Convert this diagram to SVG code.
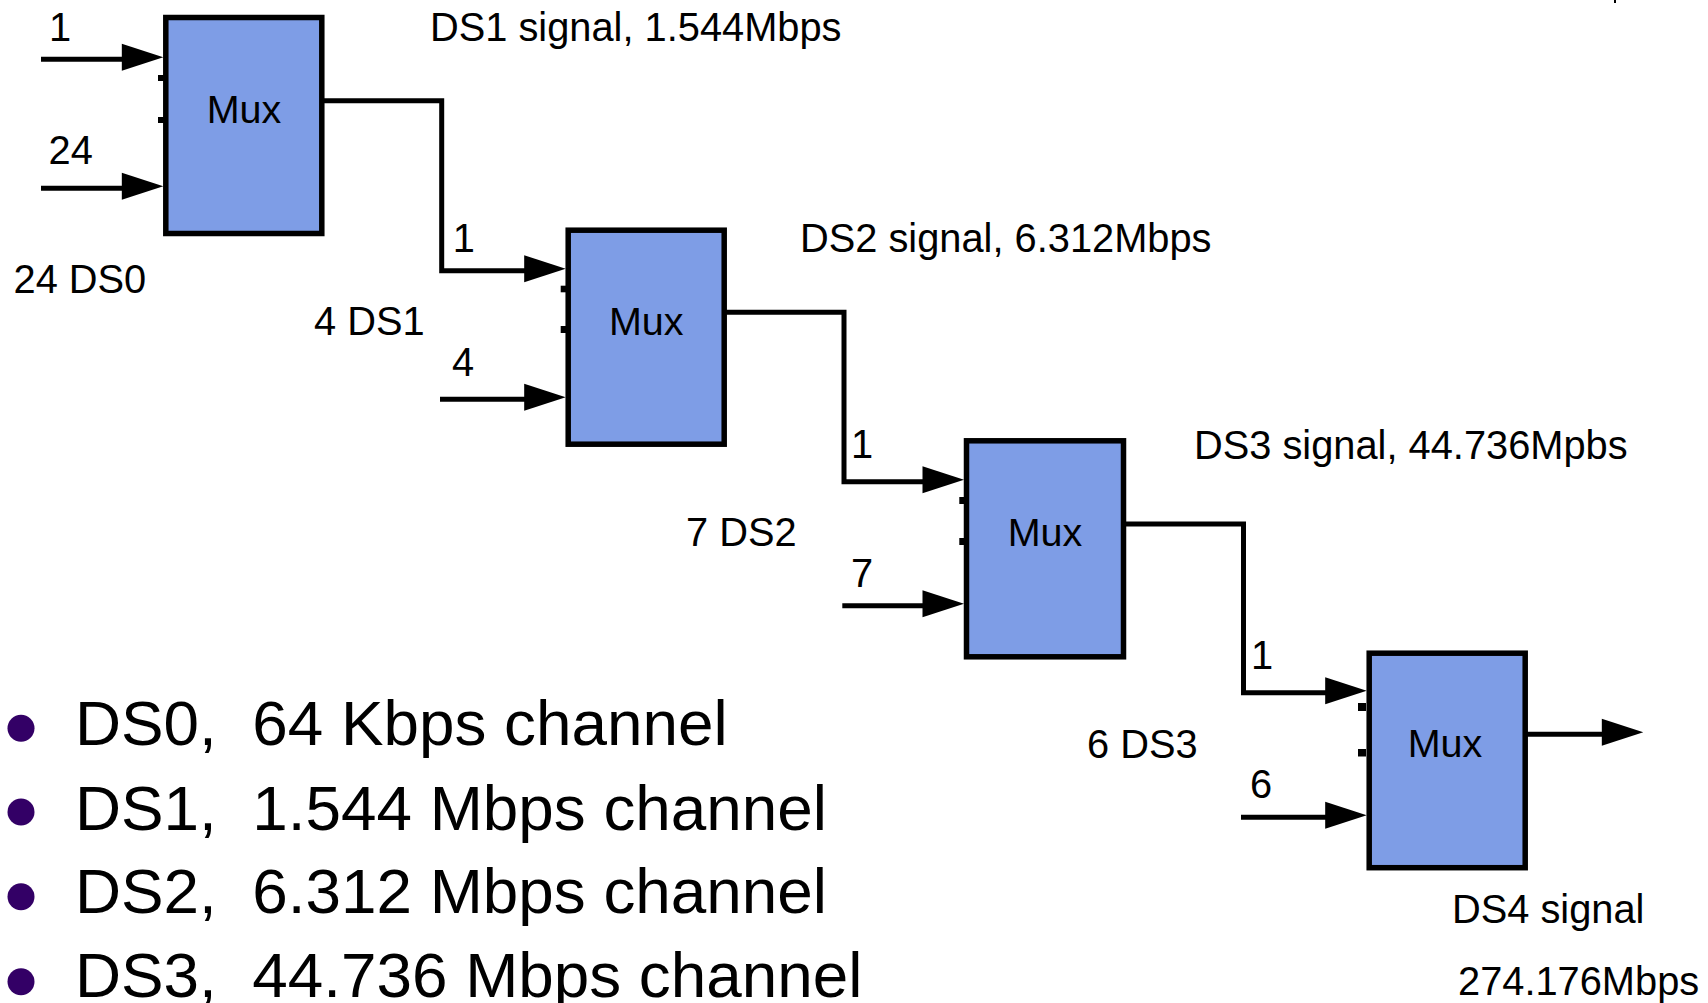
<svg xmlns="http://www.w3.org/2000/svg" width="1708" height="1003" viewBox="0 0 1708 1003">
  <style>
    .box { fill: #7E9DE6; stroke: #000; stroke-width: 5.5; }
    .wire { fill: none; stroke: #000; stroke-width: 5; stroke-linejoin: miter; }
    .arr { marker-end: url(#ah); }
    .lbl { font-family: "Liberation Sans", Arial, sans-serif; font-size: 39.8px; fill: #000; }
    .mux { font-family: "Liberation Sans", Arial, sans-serif; font-size: 39.5px; fill: #000; text-anchor: middle; }
    .big { font-family: "Liberation Sans", Arial, sans-serif; font-size: 63.8px; fill: #000; white-space: pre; }
    .bul { fill: #330066; }
    .dot { fill: #000; }
  </style>
  <defs>
    <marker id="ah" markerUnits="userSpaceOnUse" markerWidth="44" markerHeight="30" refX="21.5" refY="15.5" orient="auto" overflow="visible">
      <path d="M0,0 L41.5,13.5 L0,27 Z" fill="#000"/>
    </marker>
  </defs>
  <rect width="1708" height="1003" fill="#fff"/>
  <rect x="1614" y="0" width="2" height="3" fill="#000"/>

  <g id="connectors">
    <path class="wire arr" d="M41,59.3 H143.3"/>
    <path class="wire arr" d="M41,188.3 H143.3"/>
    <path class="wire arr" d="M316,100.7 H441.7 V270.7 H545.7"/>
    <path class="wire arr" d="M440,399.3 H545.7"/>
    <path class="wire arr" d="M714,312.3 H844 V481.7 H944"/>
    <path class="wire arr" d="M842.3,605.7 H944"/>
    <path class="wire arr" d="M1115,524 H1243.5 V692.7 H1346.7"/>
    <path class="wire arr" d="M1241,817.3 H1346.7"/>
    <path class="wire arr" d="M1519,734.3 H1623.3"/>
  </g>

  <g id="mux1">
    <rect class="box" x="165.8" y="17.5" width="156" height="216"/>
    <rect class="dot" x="158" y="75" width="7" height="6"/>
    <rect class="dot" x="158" y="117" width="7" height="6"/>
    <text class="mux" x="244" y="123.3">Mux</text>
  </g>
  <g id="mux2">
    <rect class="box" x="568.2" y="230.2" width="156" height="214"/>
    <rect class="dot" x="560.7" y="285.7" width="7" height="6.6"/>
    <rect class="dot" x="560.7" y="326" width="7" height="7"/>
    <text class="mux" x="646.2" y="335">Mux</text>
  </g>
  <g id="mux3">
    <rect class="box" x="966.5" y="440.8" width="157" height="216"/>
    <rect class="dot" x="959.3" y="497" width="7" height="7"/>
    <rect class="dot" x="959.3" y="538" width="7" height="7"/>
    <text class="mux" x="1045" y="546">Mux</text>
  </g>
  <g id="mux4">
    <rect class="box" x="1369.2" y="653.2" width="156" height="214.5"/>
    <rect class="dot" x="1358" y="703" width="8" height="8"/>
    <rect class="dot" x="1358" y="749" width="8" height="7.5"/>
    <text class="mux" x="1445" y="756.7">Mux</text>
  </g>

  <g id="labels">
    <text class="lbl" x="49" y="40.7">1</text>
    <text class="lbl" x="48.5" y="164">24</text>
    <text class="lbl" x="13.5" y="293">24 DS0</text>
    <text class="lbl" x="430" y="40.7">DS1 signal, 1.544Mbps</text>
    <text class="lbl" x="452.7" y="251.7">1</text>
    <text class="lbl" x="314" y="335">4 DS1</text>
    <text class="lbl" x="452" y="376">4</text>
    <text class="lbl" x="800" y="251.7">DS2 signal, 6.312Mbps</text>
    <text class="lbl" x="851" y="458">1</text>
    <text class="lbl" x="686" y="546">7 DS2</text>
    <text class="lbl" x="851" y="586.7">7</text>
    <text class="lbl" x="1194" y="459.3">DS3 signal, 44.736Mpbs</text>
    <text class="lbl" x="1251" y="669">1</text>
    <text class="lbl" x="1087" y="758.3">6 DS3</text>
    <text class="lbl" x="1250" y="798.3">6</text>
    <text class="lbl" x="1452" y="922.7">DS4 signal</text>
    <text class="lbl" x="1458" y="995">274.176Mbps</text>
  </g>

  <g id="bullets">
    <circle class="bul" cx="21" cy="728.3" r="13.5"/>
    <circle class="bul" cx="21" cy="812" r="13.5"/>
    <circle class="bul" cx="21" cy="896.7" r="13.5"/>
    <circle class="bul" cx="21" cy="981.7" r="13.5"/>
    <text class="big" x="75" y="745">DS0,  64 Kbps channel</text>
    <text class="big" x="75" y="830">DS1,  1.544 Mbps channel</text>
    <text class="big" x="75" y="913">DS2,  6.312 Mbps channel</text>
    <text class="big" x="75" y="996.7">DS3,  44.736 Mbps channel</text>
  </g>
</svg>
